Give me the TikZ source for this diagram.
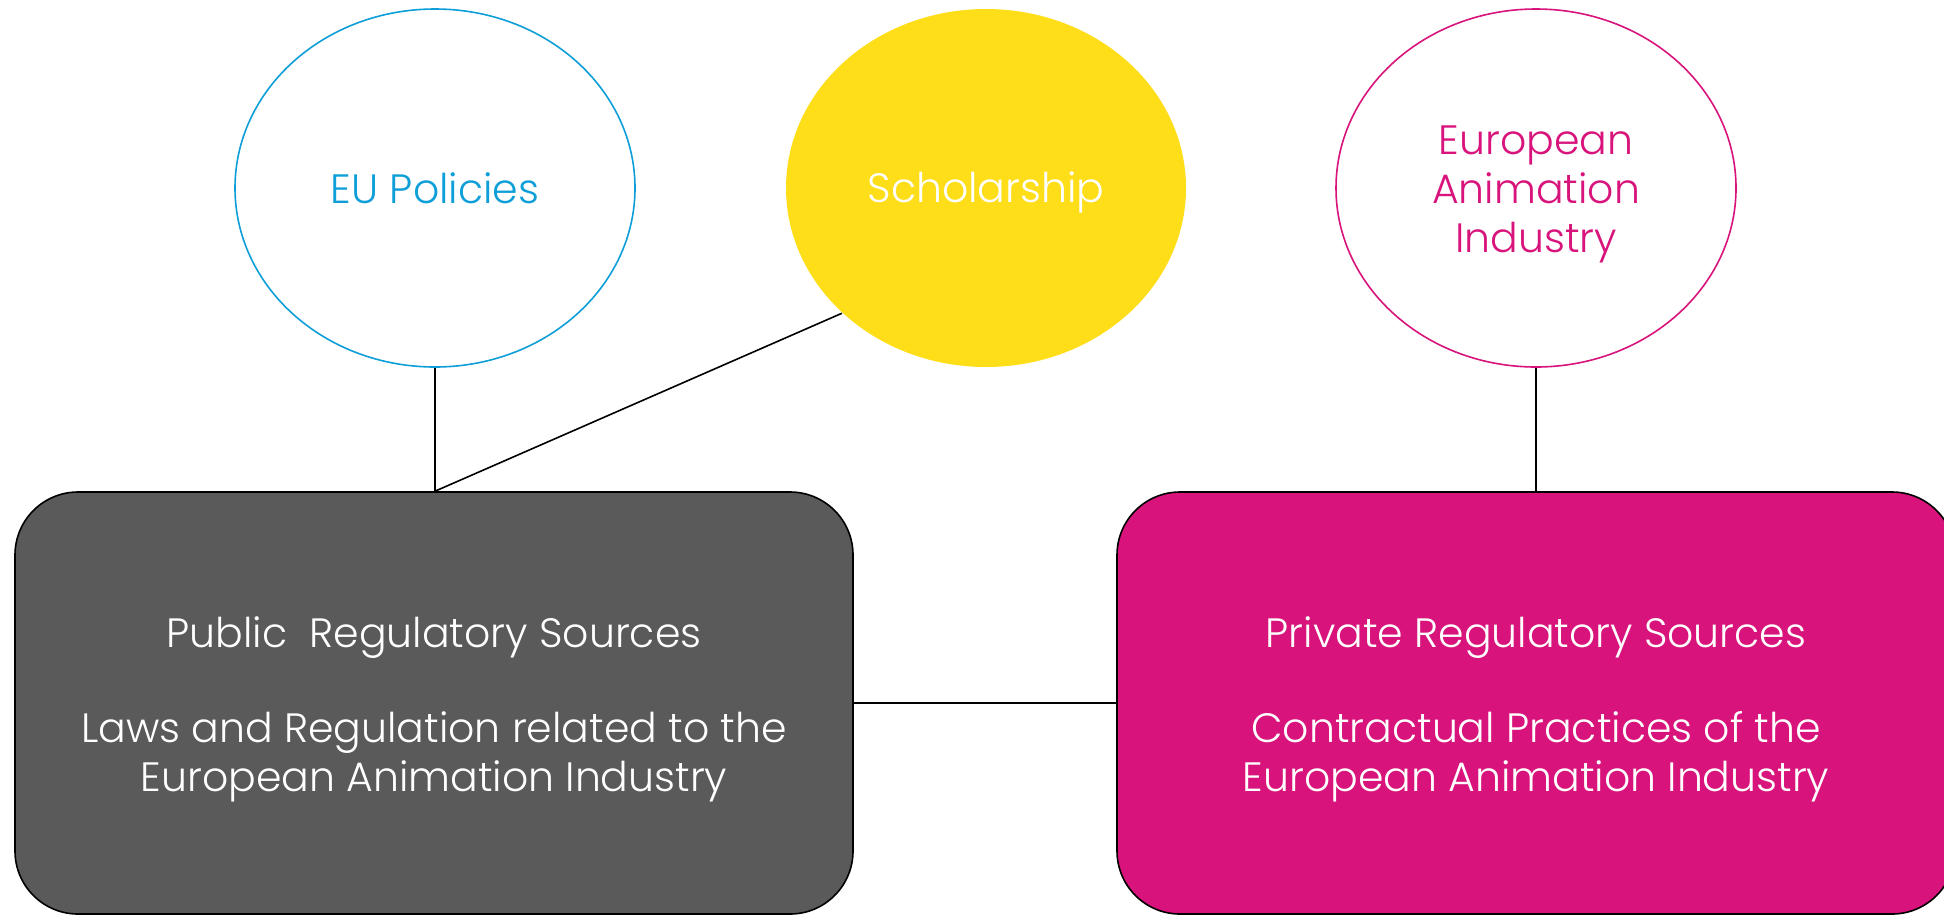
\documentclass[tikz,border=0pt]{standalone}
\usepackage{fontspec}
\setmainfont{Poppins}[UprightFont=* Light]
\usetikzlibrary{shapes.geometric}
\definecolor{eublue}{RGB}{14,158,216}
\definecolor{schyellow}{RGB}{254,221,25}
\definecolor{indmagenta}{RGB}{216,19,123}
\definecolor{pubgray}{RGB}{90,90,90}
\begin{document}
\begin{tikzpicture}[x=1pt,y=-1pt,
  lbl/.style={font=\fontsize{41}{49}\selectfont, align=center, inner sep=0pt},
  topic/.style={ellipse, minimum width=400pt, minimum height=358pt, inner sep=0pt, line width=1.6pt},
  source/.style={rectangle, rounded corners=63pt, minimum width=838pt, minimum height=422pt,
    draw=black, line width=1.6pt},
  link/.style={draw=black, line width=1.6pt}]
  \useasboundingbox (0,0) rectangle (1944,914);

  % upper row: the three inputs
  \node[topic, draw=eublue] (eu) at (435,188) {};
  \node[topic, fill=schyellow] (sch) at (986,188) {};
  \node[topic, draw=indmagenta] (ind) at (1536,188) {};
  \node[lbl, text=eublue] (eut) at (435,188) {EU Policies};
  \node[lbl, text=white] (scht) at (986,192) {Scholarship};
  \node[lbl, text=indmagenta] (indt) at (1536,194) {European\\Animation\\Industry};

  % lower row: the two kinds of regulatory sources
  \node[source, fill=pubgray] (pub) at (434,703) {};
  \node[source, fill=indmagenta] (priv) at (1536,703) {};
  \node[lbl, text=white] (pubt) at (434,709)
    {Public\ \ Regulatory Sources\\[46pt]Laws and Regulation related to the\\European Animation Industry};
  \node[lbl, text=white] (privt) at (1536,709)
    {Private Regulatory Sources\\[46pt]Contractual Practices of the\\European Animation Industry};

  % connectors
  \draw[link] (eu.south) -- (eu.south |- pub.north);
  \draw[link] (eu.south |- pub.north) -- (sch.221.6);
  \draw[link] (ind.south) -- (priv.north);
  \draw[link] (pub.east) -- (priv.west);
\end{tikzpicture}
\end{document}
